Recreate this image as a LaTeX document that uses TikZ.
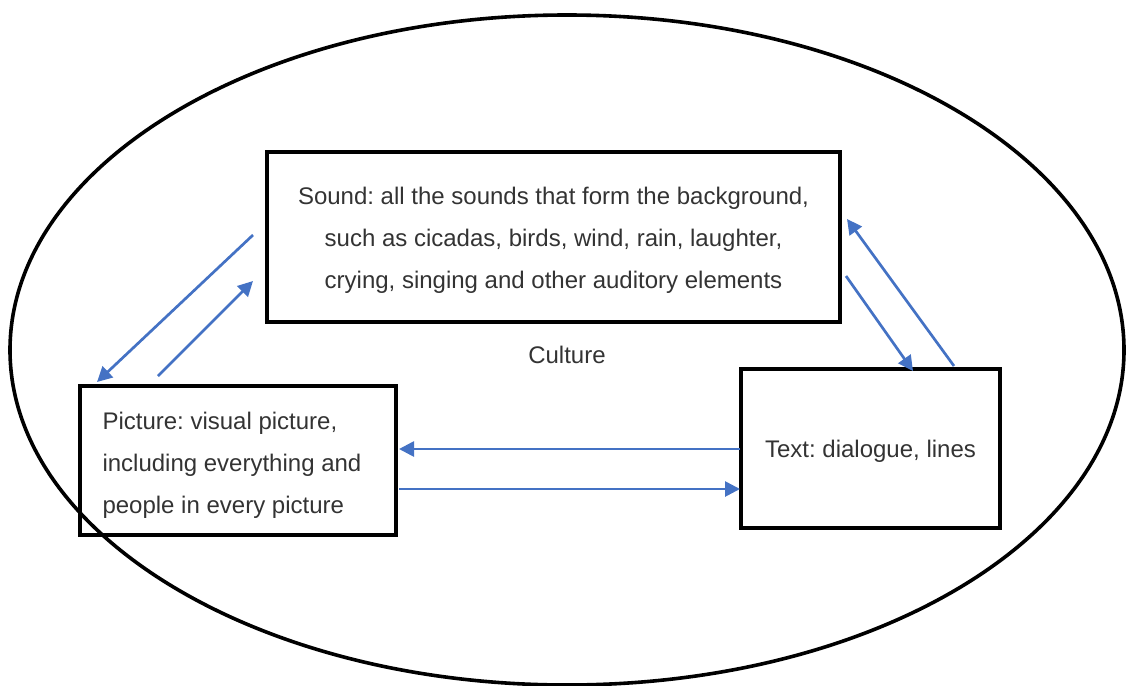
\documentclass[tikz,border=0pt]{standalone}
\usepackage{fontspec}
\setmainfont{Liberation Sans}
\usetikzlibrary{arrows.meta}
\definecolor{arrowblue}{HTML}{4472C4}
\tikzset{
  box/.style={draw=black, line width=4pt, rectangle, inner sep=0pt},
  lbl/.style={font=\fontsize{24}{42}\selectfont, text=black!80},
  link/.style={draw=arrowblue, line width=2.7pt, -{Triangle[length=15pt,width=15pt]}},
}
\frenchspacing
\begin{document}
\begin{tikzpicture}[x=1pt,y=-1pt]
\useasboundingbox (0,0) rectangle (1126,685);
\draw[line width=3.6pt] (567,350) ellipse [x radius=557, y radius=335];
% boxes
\node[box, minimum width=573pt, minimum height=170pt] (sound) at (553.5,237) {};
\node[box, minimum width=316pt, minimum height=149pt] (picture) at (238,460.5) {};
\node[box, minimum width=259pt, minimum height=159pt] (text) at (870.5,448.5) {};
% texts
\node[lbl, align=center] (soundtxt) at ([yshift=-3pt]sound.center) {Sound: all the sounds that form the background,\\such as cicadas, birds, wind, rain, laughter,\\crying, singing and other auditory elements};
\node[lbl, align=left, anchor=west] (pictxt) at ([xshift=21pt,yshift=-5pt]picture.west) {Picture: visual picture,\\including everything and\\people in every picture};
\node[lbl] (texttxt) at ([yshift=-3pt]text.center) {Text: dialogue, lines};
\node[lbl] (culture) at (567,355) {Culture};
% arrow end points
\coordinate (a1s) at (253,235);
\coordinate (a1e) at (97,382);
\coordinate (a2s) at (158,376);
\coordinate (a2e) at (253,281);
\coordinate (a3s) at (954,366);
\coordinate (a3e) at (847,219);
\coordinate (a4s) at (846,276);
\coordinate (a4e) at (913,371);
\coordinate (a5s) at (740,449);
\coordinate (a5e) at (399,449);
\coordinate (a6s) at (399,489);
\coordinate (a6e) at (740,489);
\draw[link] (a1s) -- (a1e);
\draw[link] (a2s) -- (a2e);
\draw[link] (a3s) -- (a3e);
\draw[link] (a4s) -- (a4e);
\draw[link] (a5s) -- (a5e);
\draw[link] (a6s) -- (a6e);
\end{tikzpicture}
\end{document}
